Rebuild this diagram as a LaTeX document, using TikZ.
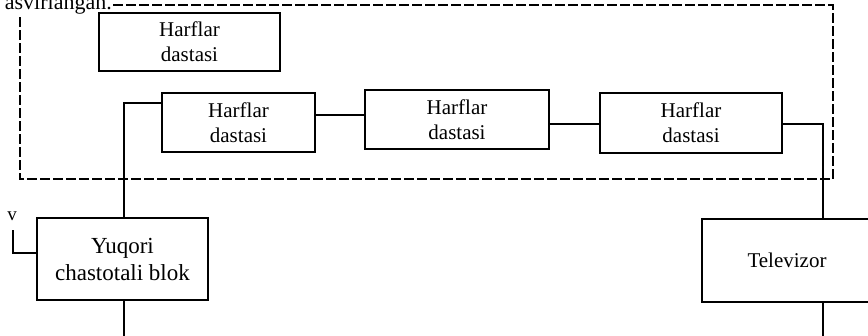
\documentclass[tikz,border=0pt]{standalone}
\usepackage{fontspec}
\setmainfont{Liberation Serif}
\usetikzlibrary{positioning}

\begin{document}
\begin{tikzpicture}
[x = 1pt, y = -1pt, line cap = rect,
block/.style = {draw, line width = 1.7pt, align = center, inner sep = 0pt, font = \fontsize{21}{25}\selectfont},
wire/.style = {line width = 1.7pt},
group line/.style = {line width = 1.3pt, dash pattern = on 8pt off 5pt}]

\useasboundingbox (0, 0) rectangle (868, 335);

% dashed group round the letter sets
\draw[group line] (20, 5) rectangle (833, 179);
\node[anchor = base east, fill = white, inner sep = 1pt, font = \fontsize{22}{26}\selectfont] (caption) at (113, 9) {asvirlangan.};

\node[block, minimum width = 181, minimum height = 58] (set top) at (189.5, 42) {Harflar\\dastasi};
\node[block, minimum width = 153, minimum height = 59] (set a) at (238.5, 122.5) {Harflar\\dastasi};
\node[block, minimum width = 184, minimum height = 59] (set b) at (457, 119.5) {Harflar\\dastasi};
\node[block, minimum width = 182, minimum height = 60] (set c) at (691, 123) {Harflar\\dastasi};

\node[block, minimum width = 171, minimum height = 82, font = \fontsize{23}{27}\selectfont] (hf block) at (122.5, 259) {Yuqori\\chastotali blok};
\node[block, minimum width = 170, minimum height = 83] (tv) at (787, 260.5) {Televizor};

\node[font = \fontsize{19}{22}\selectfont, inner sep = 0pt] (v) at (12, 216) {v};
\coordinate (hf end) at (124, 340);
\coordinate (tv end) at (823, 340);

\draw[wire] (set a.west |- 0, 103) -| (124, 0 |- hf block.north);
\draw[wire] (set a.east |- 0, 115) -- (set b.west |- 0, 115);
\draw[wire] (set b.east |- 0, 124) -- (set c.west |- 0, 124);
\draw[wire] (set c.east |- 0, 124) -| (823, 0 |- tv.north);
\draw[wire] (13, 231) |- (hf block.west |- 0, 253);
\draw[wire] (124, 0 |- hf block.south) -- (hf end);
\draw[wire] (823, 0 |- tv.south) -- (tv end);
\end{tikzpicture}
\end{document}
